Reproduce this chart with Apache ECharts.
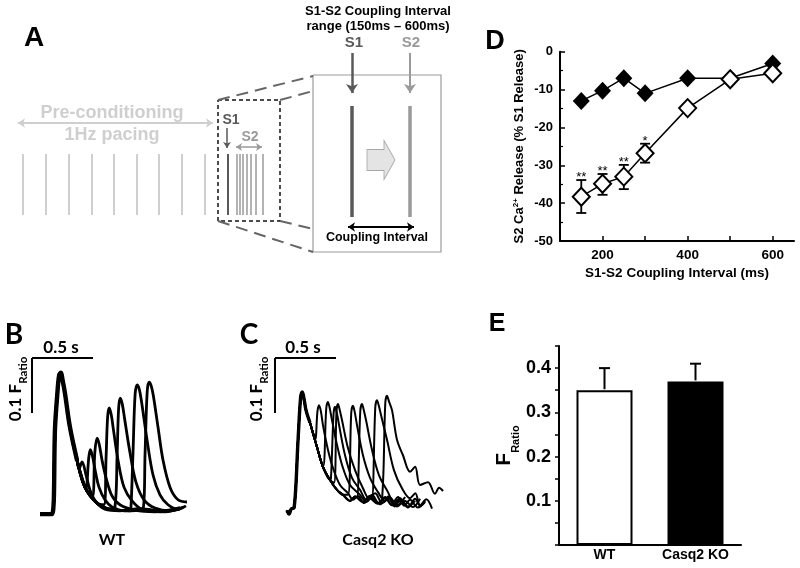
<!DOCTYPE html>
<html>
<head>
<meta charset="utf-8">
<script src="https://cdn.jsdelivr.net/npm/echarts@6/dist/echarts.min.js"></script>
<style>html,body{margin:0;padding:0;background:#fff}#c{width:800px;height:568px}</style>
</head>
<body>
<div id="c"></div>
<script>
// ================= DATA =================
// Panel D: S2 Ca2+ release vs S1-S2 coupling interval
const couplingMs   = [150, 200, 250, 300, 400, 500, 600];
const wtS2Release  = [-38.3, -34.9, -33.0, -26.8, -14.9, -7.3, -5.7];   // open diamonds
const wtErrLow     = [-42.6, -37.8, -36.3, -29.3, -15.9, -8.3, -6.7];
const wtErrHigh    = [-33.9, -32.3, -29.9, -24.3, -13.9, -6.3, -4.7];
const sigMarks     = ['**', '**', '**', '*', '', '', ''];
const koS2Release  = [-13.0, -10.3, -7.0, -11.0, -7.0, -7.0, -3.1];     // filled diamonds
const dXLabelTicks = [200, 400, 600];
const dXAllTicks   = [200, 300, 400, 500, 600];

// Panel E: F ratio
const genotypes  = ['WT', 'Casq2 KO'];
const fRatioMean = [0.35, 0.37];
const fRatioSem  = [0.05, 0.04];
const eLabelTicks = [0.1, 0.2, 0.3, 0.4];

// Panel B: WT Ca transients  [time (s), F ratio]
const wtS1 = [[0.066,-0.002],[0.164,-0.002],[0.189,0.156],[0.207,0.215],[0.222,0.250],[0.236,0.255],[0.252,0.240],[0.270,0.218],[0.311,0.156],[0.369,0.096],[0.434,0.047],[0.533,0.018],[0.639,0.007],[0.803,0.004],[0.967,0.006],[1.131,0.007],[1.254,0.013]];
const wtS2 = [
  [[0.385,0.080],[0.410,0.093],[0.443,0.069],[0.475,0.042],[0.525,0.020],[0.598,0.007],[0.721,0.004],[0.885,0.008],[1.049,0.002],[1.213,0.007]],
  [[0.443,0.045],[0.465,0.100],[0.478,0.115],[0.495,0.104],[0.520,0.075],[0.549,0.047],[0.598,0.024],[0.656,0.011],[0.762,0.004],[0.926,0.007],[1.090,0.002],[1.213,0.009]],
  [[0.492,0.029],[0.515,0.110],[0.533,0.136],[0.550,0.126],[0.575,0.095],[0.607,0.064],[0.656,0.031],[0.721,0.015],[0.844,0.005],[1.008,0.002],[1.197,0.007]],
  [[0.590,0.015],[0.607,0.100],[0.620,0.175],[0.633,0.191],[0.650,0.178],[0.667,0.152],[0.705,0.096],[0.754,0.047],[0.820,0.022],[0.902,0.007],[1.049,0.004],[1.213,0.010]],
  [[0.680,0.011],[0.697,0.100],[0.710,0.190],[0.723,0.209],[0.740,0.198],[0.760,0.170],[0.803,0.110],[0.852,0.056],[0.918,0.024],[1.008,0.009],[1.131,0.004],[1.238,0.011]],
  [[0.811,0.009],[0.828,0.110],[0.845,0.215],[0.862,0.233],[0.878,0.226],[0.896,0.205],[0.943,0.133],[0.992,0.069],[1.049,0.033],[1.115,0.015],[1.197,0.007],[1.262,0.013]],
  [[0.910,0.007],[0.927,0.110],[0.944,0.220],[0.960,0.238],[0.976,0.232],[0.994,0.214],[1.033,0.156],[1.074,0.096],[1.131,0.047],[1.197,0.024],[1.270,0.020]]
];

// Panel C: Casq2 KO Ca transients  [time (s), F ratio]
const koS1 = [[0.098,0.005],[0.115,-0.002],[0.135,0.008],[0.156,0.009],[0.189,0.133],[0.210,0.210],[0.224,0.220],[0.240,0.205],[0.254,0.187],[0.287,0.164],[0.344,0.120],[0.393,0.084],[0.451,0.060],[0.508,0.042],[0.557,0.033],[0.615,0.022],[0.656,0.030],[0.720,0.020],[0.779,0.031],[0.840,0.018],[0.902,0.026],[0.960,0.016],[1.025,0.027]];
const koS2 = [
  [[0.328,0.133],[0.348,0.185],[0.361,0.196],[0.376,0.185],[0.393,0.160],[0.434,0.115],[0.475,0.082],[0.533,0.051],[0.598,0.036],[0.640,0.024],[0.680,0.031],[0.730,0.018],[0.779,0.026],[0.840,0.017],[0.902,0.029],[0.960,0.014],[1.025,0.022]],
  [[0.393,0.084],[0.420,0.190],[0.434,0.202],[0.449,0.190],[0.467,0.169],[0.508,0.124],[0.557,0.082],[0.615,0.051],[0.697,0.033],[0.750,0.020],[0.795,0.029],[0.860,0.016],[0.926,0.026],[1.000,0.014],[1.066,0.029]],
  [[0.459,0.064],[0.480,0.180],[0.492,0.193],[0.507,0.182],[0.525,0.160],[0.574,0.105],[0.631,0.064],[0.697,0.042],[0.750,0.024],[0.795,0.033],[0.850,0.018],[0.902,0.027],[0.960,0.014],[1.025,0.027],[1.090,0.012],[1.148,0.022]],
  [[0.484,0.055],[0.504,0.185],[0.516,0.198],[0.531,0.187],[0.549,0.169],[0.598,0.118],[0.656,0.078],[0.721,0.045],[0.770,0.027],[0.820,0.036],[0.880,0.018],[0.943,0.028],[1.000,0.012],[1.066,0.022],[1.130,0.011],[1.189,0.026]],
  [[0.598,0.033],[0.625,0.182],[0.639,0.195],[0.654,0.183],[0.672,0.160],[0.721,0.105],[0.779,0.064],[0.844,0.038],[0.900,0.022],[0.926,0.030],[0.980,0.012],[1.025,0.024],[1.090,0.010],[1.148,0.026],[1.190,0.013],[1.230,0.022]],
  [[0.672,0.029],[0.699,0.185],[0.713,0.198],[0.728,0.187],[0.746,0.169],[0.795,0.115],[0.852,0.069],[0.926,0.038],[0.970,0.020],[1.008,0.029],[1.060,0.013],[1.107,0.024],[1.170,0.010],[1.230,0.020]],
  [[0.795,0.027],[0.822,0.192],[0.836,0.205],[0.851,0.195],[0.869,0.178],[0.918,0.133],[0.975,0.078],[1.041,0.045],[1.107,0.027],[1.150,0.036],[1.189,0.014],[1.240,0.025],[1.287,0.008]],
  [[0.877,0.024],[0.904,0.200],[0.918,0.213],[0.934,0.203],[0.959,0.187],[1.000,0.133],[1.049,0.105],[1.107,0.075],[1.148,0.084],[1.189,0.051],[1.254,0.056],[1.311,0.035],[1.345,0.046],[1.377,0.040]]
];
const scaleBarSec = 0.5;
const scaleBarF   = 0.1;

// Panel A: protocol schematic (diagram units)
const pacingBeats = [23, 46, 69, 92, 114, 137, 159, 182, 205];   // 1 Hz pre-conditioning
const s1Beat      = [228];
const s2Beats     = [237, 240, 243, 247, 251, 256, 263];

// ================= LAYOUT / STYLE =================
const FA = 'Liberation Sans, Arial, sans-serif';
const FC = 'Lato, Open Sans, sans-serif';
const DG = '#595959', MG = '#9a9a9a', LG = '#cfcfcf';
const diag = {
  stimTop: 154, stimBot: 215,
  preArrow: [[18,123],[213,123]],
  s1Arrow: [[227,128],[227,148]],
  s2Arrow: [[236,147],[262,147]],
  dashBox: [[218,100],[280,100],[280,221],[218,221],[218,100]],
  bigBox: [[313,75],[441,75],[441,252],[313,252],[313,75]],
  connectors: [[[218,100],[313,76]],[[280,100],[313,91]],[[218,221],[313,252]],[[280,221],[313,229]]],
  zoomS1: 352, zoomS2: 410, zoomTop: 106, zoomBot: 217,
  bigArrowTop: 53, bigArrowBot: 93,
  coupArrow: [[348,227],[414,227]],
  blockArrow: [381,160]
};
const traceBarTop = 0.282;

const chart = echarts.init(document.getElementById('c'), null, {renderer: 'canvas', width: 800, height: 568});

const grids = [
  {left: 0, top: 0, width: 470, height: 260},
  {left: 32, top: 348, width: 176.9, height: 181.5},
  {left: 275, top: 348, width: 176.9, height: 181.5},
  {left: 560, top: 51.7, width: 234, height: 189.3},
  {left: 559, top: 346, width: 182, height: 199}
];

const hidden = {show: false};
const xAxes = [
  Object.assign({type: 'value', gridIndex: 0, min: 0, max: 470}, hidden),
  Object.assign({type: 'value', gridIndex: 1, min: 0, max: 1.45}, hidden),
  Object.assign({type: 'value', gridIndex: 2, min: 0, max: 1.45}, hidden),
  {
    type: 'value', gridIndex: 3, min: 100, max: 650, interval: 100,
    axisLine: {show: true, onZero: false, lineStyle: {color: '#000', width: 2}},
    axisTick: {show: true, inside: true, length: 5, customValues: dXAllTicks, lineStyle: {color: '#000', width: 1.5}},
    axisLabel: {customValues: dXLabelTicks, color: '#000', fontFamily: FA, fontWeight: 'bold', fontSize: 13.5, margin: 7},
    splitLine: {show: false},
    name: 'S1-S2 Coupling Interval (ms)', nameLocation: 'middle', nameGap: 25,
    nameTextStyle: {color: '#000', fontFamily: FA, fontWeight: 'bold', fontSize: 13.5}
  },
  {
    type: 'category', gridIndex: 4, data: genotypes,
    axisLine: {show: true, lineStyle: {color: '#000', width: 2}},
    axisTick: {show: false},
    axisLabel: {color: '#000', fontFamily: FA, fontWeight: 'bold', fontSize: 14, margin: 3}
  }
];
const yAxes = [
  Object.assign({type: 'value', gridIndex: 0, min: 0, max: 260, inverse: true}, hidden),
  Object.assign({type: 'value', gridIndex: 1, min: -0.03, max: 0.3}, hidden),
  Object.assign({type: 'value', gridIndex: 2, min: -0.03, max: 0.3}, hidden),
  {
    type: 'value', gridIndex: 3, min: -50, max: 0, interval: 10,
    axisLine: {show: true, onZero: false, lineStyle: {color: '#000', width: 2}},
    axisTick: {show: true, inside: true, length: 5, lineStyle: {color: '#000', width: 1.5}},
    minorTick: {show: true, splitNumber: 2, length: 3, lineStyle: {color: '#000', width: 1.2}},
    axisLabel: {color: '#000', fontFamily: FA, fontWeight: 'bold', fontSize: 13, margin: 7},
    splitLine: {show: false},
    name: '{m|S2 Ca}{sup|2+}{m| Release (% S1 Release)}', nameLocation: 'middle', nameGap: 34, nameRotate: 90,
    nameTextStyle: {
      rich: {
        m: {color: '#000', fontFamily: FA, fontWeight: 'bold', fontSize: 13, lineHeight: 14},
        sup: {color: '#000', fontFamily: FA, fontWeight: 'bold', fontSize: 8, verticalAlign: 'top', lineHeight: 14}
      }
    }
  },
  {
    type: 'value', gridIndex: 4, min: 0, max: 0.45, interval: 0.05,
    axisLine: {show: true, lineStyle: {color: '#000', width: 2}},
    axisTick: {show: true, inside: false, length: 4, lineStyle: {color: '#000', width: 1.5}},
    axisLabel: {customValues: eLabelTicks, color: '#000', fontFamily: FA, fontWeight: 'bold', fontSize: 18, margin: 8},
    splitLine: {show: false},
    name: '{m|F}{sub|Ratio}', nameLocation: 'middle', nameGap: 38, nameRotate: 90,
    nameTextStyle: {
      rich: {
        m: {color: '#000', fontFamily: FA, fontWeight: 'bold', fontSize: 21, padding: [0, 0, 6, 0]},
        sub: {color: '#000', fontFamily: FA, fontWeight: 'bold', fontSize: 11, verticalAlign: 'bottom'}
      }
    }
  }
];

const series = [];

// ---------- Panel A schematic ----------
const A = {xAxisIndex: 0, yAxisIndex: 0, coordinateSystem: 'cartesian2d', silent: true};
function linesSeries(coordsList, color, width, symbol, symbolSize, type, poly) {
  return {
    type: 'lines', ...A, polyline: !!poly,
    symbol: symbol || ['none', 'none'], symbolSize: symbolSize || 7,
    lineStyle: {color: color, width: width, opacity: 1, type: type || 'solid', curveness: 0},
    data: coordsList.map(c => ({coords: c}))
  };
}
series.push(linesSeries(pacingBeats.map(x => [[x, diag.stimTop], [x, diag.stimBot]]), LG, 2));
series.push(linesSeries([diag.preArrow], LG, 2, ['arrow', 'arrow'], 7));
series.push(linesSeries(s1Beat.map(x => [[x, diag.stimTop], [x, diag.stimBot]]), DG, 2));
series.push(linesSeries(s2Beats.map(x => [[x, diag.stimTop], [x, diag.stimBot]]), MG, 1.5));
series.push(linesSeries([diag.s1Arrow], DG, 1.5, ['none', 'arrow'], 6));
series.push(linesSeries([diag.s2Arrow], MG, 1.5, ['arrow', 'arrow'], 6));
series.push(linesSeries([diag.dashBox], '#111', 1.5, null, null, [4, 3], true));
series.push(linesSeries([diag.bigBox], MG, 1.2, null, null, 'solid', true));
series.push(linesSeries(diag.connectors, '#666', 2, null, null, [12, 7]));
series.push(linesSeries([[[diag.zoomS1, diag.zoomTop], [diag.zoomS1, diag.zoomBot]]], DG, 3.5));
series.push(linesSeries([[[diag.zoomS2, diag.zoomTop], [diag.zoomS2, diag.zoomBot]]], MG, 3.5));
series.push(linesSeries([[[diag.zoomS1, diag.bigArrowTop], [diag.zoomS1, diag.bigArrowBot]]], DG, 2.5, ['none', 'arrow'], 9));
series.push(linesSeries([[[diag.zoomS2, diag.bigArrowTop], [diag.zoomS2, diag.bigArrowBot]]], MG, 2, ['none', 'arrow'], 9));
series.push(linesSeries([diag.coupArrow], '#000', 2, ['arrow', 'arrow'], 7));
series.push({
  type: 'scatter', ...A, data: [diag.blockArrow],
  symbol: 'path://M0,9 L17,9 L17,0 L28,19.5 L17,39 L17,30 L0,30 Z', symbolSize: [28, 39],
  itemStyle: {color: '#e4e4e4', borderColor: '#a8a8a8', borderWidth: 1, opacity: 1}
});

// ---------- Panels B & C traces ----------
function buildTrace(s1, s2) {
  return s1.filter(p => p[0] < s2[0][0]).concat(s2);
}
function traceSeries(idx, data, width) {
  return {
    type: 'line', xAxisIndex: idx, yAxisIndex: idx, data: data, symbol: 'none', smooth: 0.35,
    silent: true, lineStyle: {color: '#000', width: width}, z: 3
  };
}
wtS2.forEach(s2 => series.push(traceSeries(1, buildTrace(wtS1, s2), 2.8)));
series.push(traceSeries(1, wtS1.filter(p => p[0] <= 0.37), 4.4));
koS2.forEach(s2 => series.push(traceSeries(2, buildTrace(koS1, s2), 2)));
series.push(traceSeries(2, koS1.filter(p => p[0] <= 0.30), 3.4));
[1, 2].forEach(idx => {
  series.push({type: 'line', xAxisIndex: idx, yAxisIndex: idx, symbol: 'none', silent: true,
    lineStyle: {color: '#000', width: 2}, data: [[0, traceBarTop], [scaleBarSec, traceBarTop]]});
  series.push({type: 'line', xAxisIndex: idx, yAxisIndex: idx, symbol: 'none', silent: true,
    lineStyle: {color: '#000', width: 2}, data: [[0, traceBarTop], [0, traceBarTop - scaleBarF]]});
});

// ---------- Panel D ----------
series.push({
  type: 'line', xAxisIndex: 3, yAxisIndex: 3, z: 2,
  data: couplingMs.map((x, i) => [x, koS2Release[i]]),
  symbol: 'diamond', symbolSize: [17, 18],
  itemStyle: {color: '#000'}, lineStyle: {color: '#000', width: 1.5}
});
series.push({
  type: 'custom', xAxisIndex: 3, yAxisIndex: 3, z: 3,
  data: couplingMs.map((x, i) => [x, wtErrLow[i], wtErrHigh[i]]),
  encode: {x: 0, y: [1, 2]},
  renderItem: function (params, api) {
    const x = api.value(0);
    const top = api.coord([x, api.value(2)]);
    const bot = api.coord([x, api.value(1)]);
    const w = 5;
    const st = {stroke: '#000', lineWidth: 1.8};
    const ch = [
      {type: 'line', shape: {x1: top[0], y1: top[1], x2: bot[0], y2: bot[1]}, style: st},
      {type: 'line', shape: {x1: top[0] - w, y1: top[1], x2: top[0] + w, y2: top[1]}, style: st},
      {type: 'line', shape: {x1: bot[0] - w, y1: bot[1], x2: bot[0] + w, y2: bot[1]}, style: st}
    ];
    const m = sigMarks[params.dataIndex];
    if (m) ch.push({type: 'text', x: top[0], y: top[1] + 4,
      style: {text: m, fill: '#000', font: '13px ' + FA, align: 'center', verticalAlign: 'bottom'}});
    return {type: 'group', children: ch};
  }
});
series.push({
  type: 'line', xAxisIndex: 3, yAxisIndex: 3, z: 4,
  data: couplingMs.map((x, i) => [x, wtS2Release[i]]),
  symbol: 'diamond', symbolSize: [17, 18],
  itemStyle: {color: '#fff', borderColor: '#000', borderWidth: 2},
  lineStyle: {color: '#000', width: 1.5}
});

// ---------- Panel E ----------
const barStyles = [
  {color: '#fff', borderColor: '#000', borderWidth: 2},
  {color: '#000', borderColor: '#000', borderWidth: 2}
];
series.push({
  type: 'bar', xAxisIndex: 4, yAxisIndex: 4, barWidth: 56, z: 2,
  data: fRatioMean.map((v, i) => ({value: v, itemStyle: barStyles[i]}))
});
series.push({
  type: 'custom', xAxisIndex: 4, yAxisIndex: 4, z: 3,
  data: fRatioMean.map((v, i) => [i, v, v + fRatioSem[i]]),
  encode: {x: 0, y: [1, 2]},
  renderItem: function (params, api) {
    const base = api.coord([api.value(0), api.value(1)]);
    const top = api.coord([api.value(0), api.value(2)]);
    const w = 5.5;
    const st = {stroke: '#000', lineWidth: 2};
    return {type: 'group', children: [
      {type: 'line', shape: {x1: top[0], y1: top[1], x2: base[0], y2: base[1] - 1}, style: st},
      {type: 'line', shape: {x1: top[0] - w, y1: top[1], x2: top[0] + w, y2: top[1]}, style: st}
    ]};
  }
});

// ---------- Text annotations ----------
function T(text, x, y, font, fill, extra) {
  return Object.assign({type: 'text', x: x, y: y, silent: true,
    style: {text: text, font: font, fill: fill || '#000', align: 'center', verticalAlign: 'middle',
      textAlign: 'center', textVerticalAlign: 'middle'}}, extra || {});
}
const graphics = [
  T('A', 34, 38, 'bold 28px ' + FA),
  T('D', 495, 42, 'bold 27px ' + FA),
  T('E', 497, 324, 'bold 25px ' + FA),
  T('B', 14, 335, 'bold 28px ' + FC),
  T('C', 249, 335, 'bold 28px ' + FC),
  T('S1-S2 Coupling Interval', 378, 11, 'bold 13px ' + FA),
  T('range (150ms \u2013 600ms)', 378, 26, 'bold 13px ' + FA),
  T('S1', 354, 43, 'bold 15px ' + FA, DG),
  T('S2', 411, 43, 'bold 15px ' + FA, MG),
  T('Pre-conditioning', 112, 113, 'bold 18px ' + FA, LG),
  T('1Hz pacing', 112, 135, 'bold 18px ' + FA, LG),
  T('S1', 231, 120, 'bold 14px ' + FA, DG),
  T('S2', 250, 137, 'bold 14px ' + FA, MG),
  T('Coupling Interval', 377, 238, 'bold 12.5px ' + FA),
  T('0.5 s', 61, 348, 'bold 17px ' + FC),
  T('0.5 s', 303, 348, 'bold 17px ' + FC),
  T('WT', 112, 540, 'bold 16px ' + FC),
  T('Casq2 KO', 378, 540, 'bold 16px ' + FC)
];
function ratioLabel(x, y) {
  return {type: 'text', x: x, y: y, rotation: Math.PI / 2, silent: true,
    style: {text: '{m|0.1 F}{s|Ratio}', align: 'center', verticalAlign: 'middle',
      textAlign: 'center', textVerticalAlign: 'middle',
      rich: {
        m: {fontSize: 17, fontWeight: 'bold', fontFamily: FC, fill: '#000', padding: [0, 0, 5, 0]},
        s: {fontSize: 11.5, fontWeight: 'bold', fontFamily: FC, fill: '#000', verticalAlign: 'bottom'}
      }}};
}
graphics.push(ratioLabel(18, 389), ratioLabel(259, 389));

chart.setOption({
  animation: false,
  backgroundColor: '#fff',
  textStyle: {fontFamily: FA},
  grid: grids,
  xAxis: xAxes,
  yAxis: yAxes,
  series: series,
  graphic: graphics
});
</script>
</body>
</html>
